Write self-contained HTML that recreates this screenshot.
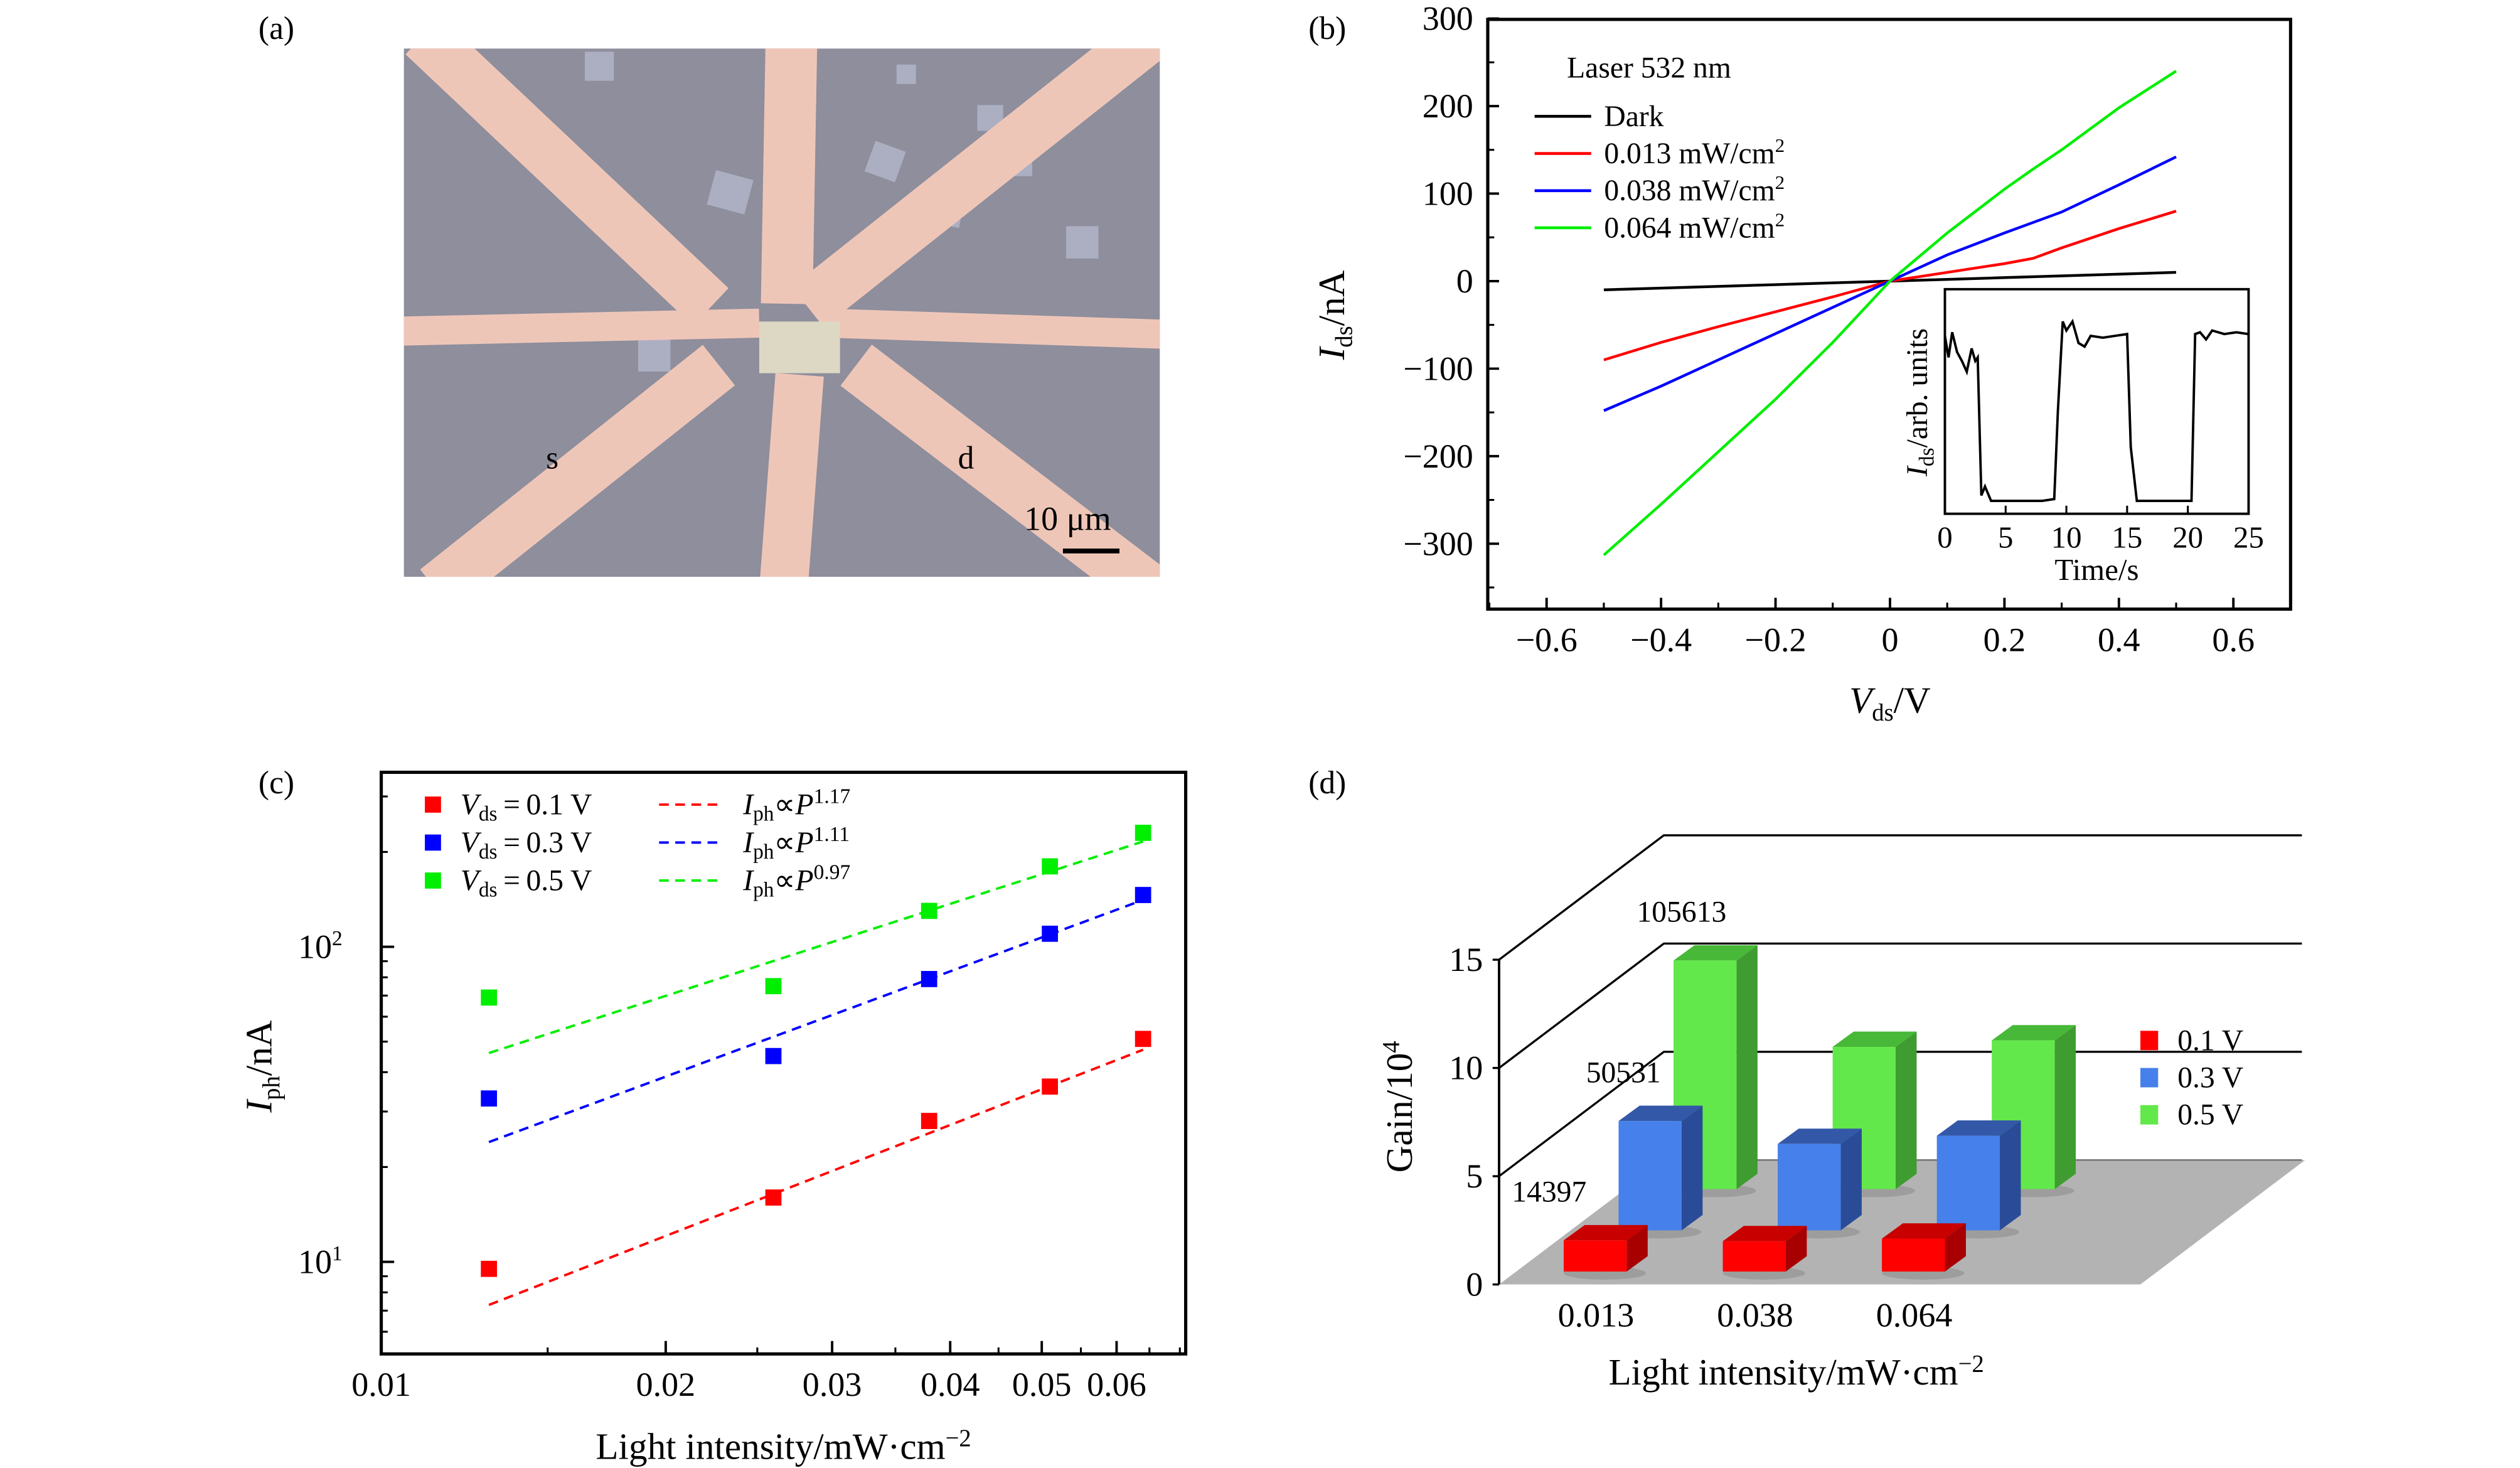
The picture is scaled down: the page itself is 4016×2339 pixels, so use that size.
<!DOCTYPE html>
<html><head><meta charset="utf-8"><style>
html,body{margin:0;padding:0;background:#fff}
svg{display:block}
text{font-family:"Liberation Serif",serif;fill:#000}
</style></head><body>
<svg id="fig" width="4016" height="2339" viewBox="0 0 1560 908.6" xmlns="http://www.w3.org/2000/svg">
<text x="160" y="24" font-size="20">(a)</text>
<text x="810" y="24" font-size="20">(b)</text>
<text x="160" y="491" font-size="20">(c)</text>
<text x="810" y="491" font-size="20">(d)</text>

<g>
<clipPath id="clipA"><rect x="250" y="30" width="468" height="327"/></clipPath>
<g clip-path="url(#clipA)">
<rect x="250" y="30" width="468" height="327" fill="#8e8e9c"/>
<g fill="#b4b8cc" opacity="0.8">
<rect x="362" y="32" width="18" height="18"/><rect x="440" y="108" width="24" height="22" transform="rotate(15 452 119)"/>
<rect x="570" y="115" width="26" height="24" transform="rotate(10 583 127)"/><rect x="538" y="90" width="20" height="20" transform="rotate(20 548 100)"/>
<rect x="605" y="65" width="16" height="16"/><rect x="395" y="210" width="20" height="20"/><rect x="660" y="140" width="20" height="20"/>
<rect x="625" y="95" width="14" height="14"/><rect x="555" y="40" width="12" height="12"/>
</g>
<g stroke="#eec6b8" stroke-linecap="butt">
<line x1="440" y1="190" x2="262" y2="22" stroke-width="32"/>
<line x1="487" y1="188" x2="490" y2="20" stroke-width="32"/>
<line x1="500" y1="190" x2="712" y2="22" stroke-width="32"/>
<line x1="245" y1="205" x2="470" y2="200" stroke-width="18"/>
<line x1="512" y1="200" x2="725" y2="207" stroke-width="18"/>
<line x1="445" y1="226" x2="270" y2="365" stroke-width="32"/>
<line x1="495" y1="232" x2="485" y2="365" stroke-width="30"/>
<line x1="530" y1="226" x2="712" y2="365" stroke-width="32"/>
</g>
<rect x="470" y="199" width="50" height="32" fill="#dcd8c4"/>
</g>
<text x="338" y="290" font-size="20">s</text>
<text x="593" y="290" font-size="20">d</text>
<text x="634" y="328" font-size="21">10 μm</text>
<line x1="658" y1="341" x2="693" y2="341" stroke="#000" stroke-width="3"/>
</g>

<g id="panelB"></g>
<g id="panelC"></g>
<g id="panelD"></g>
</svg>
<script>
const NS="http://www.w3.org/2000/svg";
function mk(parent,tag,attrs,txt){const e=document.createElementNS(NS,tag);for(const k in attrs)e.setAttribute(k,attrs[k]);if(txt!==undefined)e.textContent=txt;parent.appendChild(e);return e;}

/* ---------- Panel B data ---------- */
const ivV=[-0.5,-0.4,-0.3,-0.2,-0.1,0,0.1,0.2,0.25,0.3,0.4,0.5];
const ivDark=[-10,-8,-6,-4,-2,0,2,4,5,6,8,10];
const ivRed=[-90,-70,-52,-35,-18,0,10,20,26,38,60,80];
const ivBlue=[-148,-120,-90,-60,-30,0,30,55,67,79,110,142];
const ivGreen=[-313,-255,-195,-135,-70,0,55,105,128,150,198,240];
const bXTicks=[-0.6,-0.4,-0.2,0,0.2,0.4,0.6];
const bXTickLabels=["\u22120.6","\u22120.4","\u22120.2","0","0.2","0.4","0.6"];
const bYTicks=[300,200,100,0,-100,-200,-300];
const bYTickLabels=["300","200","100","0","\u2212100","\u2212200","\u2212300"];
const bLegend=["Dark","0.013 mW/cm","0.038 mW/cm","0.064 mW/cm"];
const insetT=[0,0.3,0.6,1,1.4,1.8,2.2,2.5,2.7,3,3.3,3.8,4.5,6,8,9,9.3,9.7,10,10.5,11,11.5,12,13,14,15,15.3,15.8,16.3,18,20.3,20.6,21,21.5,22,23,24,25];
const insetI=[0.92,0.8,0.94,0.83,0.78,0.72,0.85,0.78,0.8,0.03,0.08,0.0,0.0,0.0,0.0,0.01,0.5,1.0,0.95,1.0,0.88,0.86,0.92,0.91,0.92,0.93,0.3,0.0,0.0,0.0,0.0,0.93,0.94,0.9,0.95,0.93,0.94,0.93];
const insetXTicks=[0,5,10,15,20,25];

const bx=v=>1170+v*354.3, by=v=>174-v*0.5417;
const gB=document.getElementById('panelB');
const frameB=mk(gB,'rect',{x:921,y:12,width:497,height:365,fill:'none',stroke:'#000','stroke-width':2});


bXTicks.forEach((t,i)=>{
  const tk=mk(gB,'line',{x1:bx(t),y1:377,x2:bx(t),y2:370,stroke:'#000','stroke-width':1.5});
  
  
  const lb=mk(gB,'text',{x:bx(t),y:403,'font-size':21,'text-anchor':'middle'},bXTickLabels[i]);
  
  
});
for(let t=-0.7;t<=0.71;t+=0.2){const m=mk(gB,'line',{x1:bx(t),y1:377,x2:bx(t),y2:373,stroke:'#000','stroke-width':1.2});}
bYTicks.forEach((t,i)=>{
  const tk=mk(gB,'line',{x1:921,y1:by(t),x2:928,y2:by(t),stroke:'#000','stroke-width':1.5});
  
  
  const lb=mk(gB,'text',{x:912,y:by(t)+7,'font-size':21,'text-anchor':'end'},bYTickLabels[i]);
  
  
});
for(let t=-350;t<=250;t+=100){const m=mk(gB,'line',{x1:921,y1:by(t),x2:925,y2:by(t),stroke:'#000','stroke-width':1.2});}
const bSeries=[[ivDark,'#000','dark'],[ivRed,'#ff0000','red'],[ivBlue,'#0000ff','blue'],[ivGreen,'#00ee00','green']];
bSeries.forEach(s=>{
  const p=mk(gB,'polyline',{points:ivV.map((v,i)=>bx(v)+','+by(s[0][i])).join(' '),fill:'none',stroke:s[1],'stroke-width':1.7});
  
  
});
const lt=mk(gB,'text',{x:970,y:48,'font-size':18.5},'Laser 532 nm');


bLegend.forEach((l,i)=>{
  const y=72+i*23;
  const ln=mk(gB,'line',{x1:950,y1:y,x2:985,y2:y,stroke:bSeries[i][1],'stroke-width':1.8});
  
  
  const tx=mk(gB,'text',{x:993,y:y+6,'font-size':18.5},l);
  
  
  if(i>0){mk(tx,'tspan',{dy:-7,'font-size':12},'2');}
});
const xlB=mk(gB,'text',{x:1170,y:441,'font-size':23,'text-anchor':'middle'});


mk(xlB,'tspan',{'font-style':'italic'},'V');mk(xlB,'tspan',{dy:5,'font-size':15},'ds');mk(xlB,'tspan',{dy:-5},'/V');
const ylB=mk(gB,'text',{x:0,y:0,'font-size':23,'text-anchor':'middle',transform:'translate(832,195) rotate(-90)'});


mk(ylB,'tspan',{'font-style':'italic'},'I');mk(ylB,'tspan',{dy:5,'font-size':15},'ds');mk(ylB,'tspan',{dy:-5},'/nA');
const ix=t=>1204+t*7.52, iy=v=>310-v*111;
const ib=mk(gB,'rect',{x:1204,y:179,width:188,height:139,fill:'#fff',stroke:'#000','stroke-width':1.5});


insetXTicks.forEach(t=>{
  const tk=mk(gB,'line',{x1:ix(t),y1:318,x2:ix(t),y2:313,stroke:'#000','stroke-width':1.2});
  
  
  const lb=mk(gB,'text',{x:ix(t),y:339,'font-size':19,'text-anchor':'middle'},String(t));
  
  
});
const ipl=mk(gB,'polyline',{points:insetT.map((t,i)=>ix(t)+','+iy(insetI[i])).join(' '),fill:'none',stroke:'#000','stroke-width':1.5});


const ixl=mk(gB,'text',{x:1298,y:359,'font-size':19,'text-anchor':'middle'},'Time/s');


const iyl=mk(gB,'text',{x:0,y:0,'font-size':18.5,'text-anchor':'middle',transform:'translate(1193,249) rotate(-90)'});


mk(iyl,'tspan',{'font-style':'italic'},'I');mk(iyl,'tspan',{dy:4,'font-size':13},'ds');mk(iyl,'tspan',{dy:-4},'/arb. units');

/* ---------- Panel C data ---------- */
const cIntensity=[0.013,0.026,0.038,0.051,0.064];
const cRed=[9.5,16,28,36,51];
const cBlue=[33,45,79,110,146];
const cGreen=[69,75,130,180,230];
const cFitA=[7.3,24,46];
const cFitExp=[1.17,1.11,0.97];
const cFitRange=[0.013,0.064];
const cXTicks=[0.01,0.02,0.03,0.04,0.05,0.06];
const cXTickLabels=["0.01","0.02","0.03","0.04","0.05","0.06"];
const cYTicks=[10,100];
const cVolt=["0.1","0.3","0.5"];
const cExpLabels=["1.17","1.11","0.97"];

const cx=v=>236+Math.log10(v/0.01)*585, cy=v=>781-Math.log10(v/10)*195;
const gC=document.getElementById('panelC');
const frameC=mk(gC,'rect',{x:236,y:478,width:498,height:360,fill:'none',stroke:'#000','stroke-width':2});


cXTicks.forEach((t,i)=>{
  const tk=mk(gC,'line',{x1:cx(t),y1:838,x2:cx(t),y2:830,stroke:'#000','stroke-width':1.5});
  
  
  const lb=mk(gC,'text',{x:cx(t),y:864,'font-size':21,'text-anchor':'middle'},cXTickLabels[i]);
  
  
});
[0.015,0.025,0.035,0.045,0.055,0.065,0.07].forEach(t=>{const m=mk(gC,'line',{x1:cx(t),y1:838,x2:cx(t),y2:834,stroke:'#000','stroke-width':1.2});});
cYTicks.forEach(t=>{
  const tk=mk(gC,'line',{x1:236,y1:cy(t),x2:244,y2:cy(t),stroke:'#000','stroke-width':1.5});
  
  
  const lb=mk(gC,'text',{x:212,y:cy(t)+7,'font-size':21,'text-anchor':'end'},'10');
  
  
  mk(lb,'tspan',{dy:-8,'font-size':13},t===10?'1':'2');
});
[6,7,8,9,20,30,40,50,60,70,80,90,200,300].forEach(t=>{const m=mk(gC,'line',{x1:236,y1:cy(t),x2:240,y2:cy(t),stroke:'#000','stroke-width':1.2});});
const cSeries=[[cRed,'#ff0000','red'],[cBlue,'#0000ff','blue'],[cGreen,'#00ee00','green']];
cSeries.forEach((s,k)=>{
  const f=v=>cFitA[k]*Math.pow(v/cFitRange[0],cFitExp[k]);
  const fl=mk(gC,'line',{x1:cx(cFitRange[0]),y1:cy(f(cFitRange[0])),x2:cx(cFitRange[1]),y2:cy(f(cFitRange[1])),stroke:s[1],'stroke-width':1.5,'stroke-dasharray':'6,4'});
  
  
  cIntensity.forEach((v,i)=>{
    const r=mk(gC,'rect',{x:cx(v)-5,y:cy(s[0][i])-5,width:10,height:10,fill:s[1]});
    
    
  });
  const y=498+k*23.5;
  const sq=mk(gC,'rect',{x:263,y:y-5,width:10,height:10,fill:s[1]});
  
  
  const tx=mk(gC,'text',{x:285,y:y+6,'font-size':18.5});
  
  
  mk(tx,'tspan',{'font-style':'italic'},'V');mk(tx,'tspan',{dy:4,'font-size':13},'ds');mk(tx,'tspan',{dy:-4},'\u2009=\u2009'+cVolt[k]+' V');
  const dl=mk(gC,'line',{x1:408,y1:y,x2:445,y2:y,stroke:s[1],'stroke-width':1.5,'stroke-dasharray':'6,4'});
  
  
  const tf=mk(gC,'text',{x:460,y:y+6,'font-size':18.5});
  
  
  mk(tf,'tspan',{'font-style':'italic'},'I');mk(tf,'tspan',{dy:4,'font-size':13},'ph');mk(tf,'tspan',{dy:-4},'\u221d');mk(tf,'tspan',{'font-style':'italic'},'P');mk(tf,'tspan',{dy:-7,'font-size':13},cExpLabels[k]);
});
const xlC=mk(gC,'text',{x:485,y:903,'font-size':23,'text-anchor':'middle'},'Light intensity/mW\u00b7cm');


mk(xlC,'tspan',{dy:-8,'font-size':15},'\u22122');
const ylC=mk(gC,'text',{x:0,y:0,'font-size':23,'text-anchor':'middle',transform:'translate(168,660) rotate(-90)'});


mk(ylC,'tspan',{'font-style':'italic'},'I');mk(ylC,'tspan',{dy:5,'font-size':15},'ph');mk(ylC,'tspan',{dy:-5},'/nA');

/* ---------- Panel D data ---------- */
const dCategories=["0.013","0.038","0.064"];
const dGain01=[1.44,1.4,1.52];
const dGain03=[5.05,3.99,4.37];
const dGain05=[10.56,6.57,6.87];
const dYTicks=[0,5,10,15];
const dLabels=["14397","50531","105613"];
const dVoltLabels=["0.1 V","0.3 V","0.5 V"];

const gD=document.getElementById('panelD');
const U=13.4, DX=102, DY=-77;
const dy0=v=>795-v*U;
const floor=mk(gD,'polygon',{points:`928,795 1325,795 ${1325+DX},${795+DY} ${928+DX},${795+DY}`,fill:'#b3b3b3'});


const fl2=mk(gD,'line',{x1:928+DX,y1:795+DY,x2:1425,y2:795+DY,stroke:'#777','stroke-width':1});


dYTicks.forEach(t=>{
  const y=dy0(t);
  if(t>0){
    const g=mk(gD,'polyline',{points:`928,${y} ${928+DX},${y+DY} 1425,${y+DY}`,fill:'none',stroke:'#000','stroke-width':1.3});
    
    
  }
  const tk=mk(gD,'line',{x1:924,y1:y,x2:928,y2:y,stroke:'#000','stroke-width':1.3});
  
  
  const lb=mk(gD,'text',{x:918,y:y+7,'font-size':21,'text-anchor':'end'},String(t));
  
  
});
const ax=mk(gD,'line',{x1:928,y1:dy0(15),x2:928,y2:795,stroke:'#000','stroke-width':1.5});


const dRows=[[dGain05,'#62e84a','#48b838','#3e9c30','green',2],[dGain03,'#4680ea','#3458a8','#2a4c98','blue',1],[dGain01,'#ff0000','#c80000','#a80000','red',0]];
const BW=39, SX=13, SY=-9.5;
dRows.forEach(r=>{
  const row=r[5];
  dCategories.forEach((c,i)=>{
    const x0=968+i*98.5+row*34, base=787-row*25.5, top=base-r[0][i]*U;
    const sh=mk(gD,'ellipse',{cx:x0+BW/2+6,cy:base+1,rx:BW/2+6,ry:4,fill:'#888',opacity:0.5});
    
    
    const side=mk(gD,'polygon',{points:`${x0+BW},${base} ${x0+BW},${top} ${x0+BW+SX},${top+SY} ${x0+BW+SX},${base+SY}`,fill:r[3]});
    
    
    const tp=mk(gD,'polygon',{points:`${x0},${top} ${x0+BW},${top} ${x0+BW+SX},${top+SY} ${x0+SX},${top+SY}`,fill:r[2]});
    
    
    const fr=mk(gD,'rect',{x:x0,y:top,width:BW,height:base-top,fill:r[1]});
    
    
    if(i===0){
      const vl=mk(gD,'text',{x:x0+5-(row===0?14:0)-(row===1?2:0),y:top-24,'font-size':18.5,'text-anchor':'middle'},dLabels[row]);
      
      
    }
  });
});
dCategories.forEach((c,i)=>{
  const lb=mk(gD,'text',{x:988+i*98.5,y:821,'font-size':21,'text-anchor':'middle'},c);
  
  
});
[['#ff0000',0],['#4680ea',1],['#62e84a',2]].forEach((s,k)=>{
  const y=649+k*23;
  const sq=mk(gD,'rect',{x:1325,y:y-11,width:11,height:12,fill:s[0]});
  
  
  const tx=mk(gD,'text',{x:1348,y:y+1,'font-size':18.5},dVoltLabels[k]);
  
  
});
const xlD=mk(gD,'text',{x:1112,y:857,'font-size':23,'text-anchor':'middle'},'Light intensity/mW\u00b7cm');


mk(xlD,'tspan',{dy:-8,'font-size':15},'\u22122');
const ylD=mk(gD,'text',{x:0,y:0,'font-size':23,'text-anchor':'middle',transform:'translate(874,685) rotate(-90)'},'Gain/10');


mk(ylD,'tspan',{dy:-8,'font-size':15},'4');
</script>
</body></html>
